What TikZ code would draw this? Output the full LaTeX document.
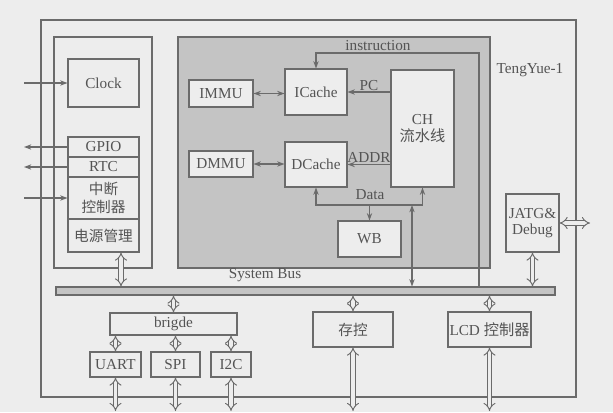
\documentclass[tikz,border=0pt]{standalone}
\usepackage{fontspec}
\setmainfont{Liberation Serif}
\newfontfamily\cjk{Noto Sans CJK SC}
\usetikzlibrary{arrows.meta}
\definecolor{paper}{gray}{0.93}
\definecolor{ink}{gray}{0.33}
\definecolor{edge}{gray}{0.42}
\definecolor{core}{gray}{0.77}
\tikzset{
  blk/.style={rectangle, draw=edge, line width=0.9pt, fill=paper, text=ink, align=center,
    inner sep=1pt, font=\fontsize{13}{14}\selectfont},
  zh/.style={font=\fontsize{12.5}{15}\selectfont\cjk},
  lbl/.style={text=ink, inner sep=1pt, font=\fontsize{13}{14}\selectfont},
  sig/.style={-{Stealth[length=2.2mm,width=1.6mm]}, line width=0.9pt, draw=edge},
  twoway/.style={sig, {Stealth[length=2.2mm,width=1.6mm]}-{Stealth[length=2.2mm,width=1.6mm]}},
  wide/.style={{Implies}-{Implies}, double=paper, double distance=2.8pt, line width=0.8pt, draw=edge},
}
\begin{document}
\begin{tikzpicture}[x=0.03cm, y=-0.03cm]
  \useasboundingbox[fill=paper] (0,0) rectangle (613,412);
  % chip outline
  \node[blk, fill=none, minimum width=16.05cm, minimum height=11.31cm] (chip) at (308.5,208.5) {};
  \node[lbl] (name) at (530,70) {TengYue-1};
  % system group
  \node[blk, fill=none, minimum width=2.94cm, minimum height=6.93cm] (sys) at (103,152.5) {};
  \node[blk, minimum width=2.13cm, minimum height=1.44cm] (clk) at (103.5,83) {Clock};
  \node[blk, minimum width=2.13cm, minimum height=0.6cm] (gpio) at (103.5,147) {GPIO};
  \node[blk, minimum width=2.13cm, minimum height=0.6cm] (rtc) at (103.5,167) {RTC};
  \node[blk, zh, minimum width=2.13cm, minimum height=1.26cm] (irq) at (103.5,198) {中断\\控制器};
  \node[blk, zh, minimum width=2.13cm, minimum height=0.99cm] (pwr) at (103.5,235.5) {电源管理};
  % cpu core
  \node[blk, fill=core, minimum width=9.36cm, minimum height=6.93cm] (cpu) at (334,152.5) {};
  \node[blk, minimum width=1.92cm, minimum height=0.81cm] (immu) at (221,93.5) {IMMU};
  \node[blk, minimum width=1.86cm, minimum height=1.38cm] (icache) at (316,92) {ICache};
  \node[blk, minimum width=1.89cm, minimum height=3.51cm] (ch) at (422.5,128.5) {CH\\{\cjk 流水线}};
  \node[blk, minimum width=1.92cm, minimum height=0.78cm] (dmmu) at (221,164) {DMMU};
  \node[blk, minimum width=1.86cm, minimum height=1.35cm] (dcache) at (316,164.5) {DCache};
  \node[blk, minimum width=1.89cm, minimum height=1.08cm] (wb) at (369.5,239) {WB};
  % debug
  \node[blk, minimum width=1.59cm, minimum height=1.74cm] (jtag) at (532.5,223) {JATG\&\\Debug};
  % bus
  \node[blk, fill=core, minimum width=14.97cm, minimum height=0.24cm] (bus) at (305.5,291) {};
  \node[lbl] (buslbl) at (265,275) {System Bus};
  % peripherals
  \node[blk, minimum width=3.81cm, minimum height=0.66cm] (bridge) at (173.5,324) {brigde};
  \foreach \n/\t/\x/\w in {uart/UART/115.5/1.53, spi/SPI/175.5/1.47, i2c/I2C/231/1.2}
    \node[blk, minimum width=\w cm, minimum height=0.75cm] (\n) at (\x,364.5) {\t};
  \node[blk, zh, minimum width=2.4cm, minimum height=1.05cm] (mem) at (353,329.5) {存控};
  \node[blk, minimum width=2.49cm, minimum height=1.05cm] (lcd) at (489.5,329.5) {LCD {\cjk 控制器}};
  % free ends
  \coordinate (clkin) at (24,83);
  \coordinate (gpioout) at (24,147);
  \coordinate (rtcout) at (24,167);
  \coordinate (irqin) at (24,198);
  \coordinate (instr) at (479,53);
  \coordinate (data) at (369.5,205);
  \coordinate (dbus) at (412,205);
  \coordinate (jtagout) at (590,223);
  \coordinate (bot) at (0,411);
  % system signals
  \draw[sig] (clkin) -- (clk.west);
  \draw[sig] (gpio.west) -- (gpioout);
  \draw[sig] (rtc.west) -- (rtcout);
  \draw[sig] (irqin) -- (irq.west);
  \draw[wide] ([xshift=0.525cm]pwr.south) -- ([xshift=0.525cm]pwr.south |- bus.north);
  % core paths
  \draw[twoway] (immu.east) -- (immu.east -| icache.west);
  \draw[twoway] (dmmu.east) -- (dmmu.east -| dcache.west);
  \draw[sig] (ch.west |- icache) -- node[lbl, above] {PC} (icache.east);
  \draw[sig] (ch.west |- dcache) -- node[lbl, above] {ADDR} (dcache.east);
  \draw[sig] (bus.north -| instr) -- (instr) -| (icache.north);
  \node[lbl] (instrlbl) at (378,46) {instruction};
  \draw[twoway] (dcache.south) |- (data) -| (ch.south);
  \node[lbl] (datalbl) at (370,195) {Data};
  \draw[sig] (data) -- (wb.north);
  \draw[twoway] (dbus) -- (dbus |- bus.north);
  % bus links
  \draw[wide] (jtag.east) -- (jtagout);
  \draw[wide] (jtag.south) -- (jtag.south |- bus.north);
  \draw[wide] (bus.south -| bridge) -- (bridge.north);
  \foreach \n in {uart, spi, i2c} {
    \draw[wide] (bridge.south -| \n) -- (\n.north);
    \draw[wide] (\n.south) -- (\n.south |- bot);
  }
  \foreach \n in {mem, lcd} {
    \draw[wide] (bus.south -| \n) -- (\n.north);
    \draw[wide] (\n.south) -- (\n.south |- bot);
  }
\end{tikzpicture}
\end{document}
